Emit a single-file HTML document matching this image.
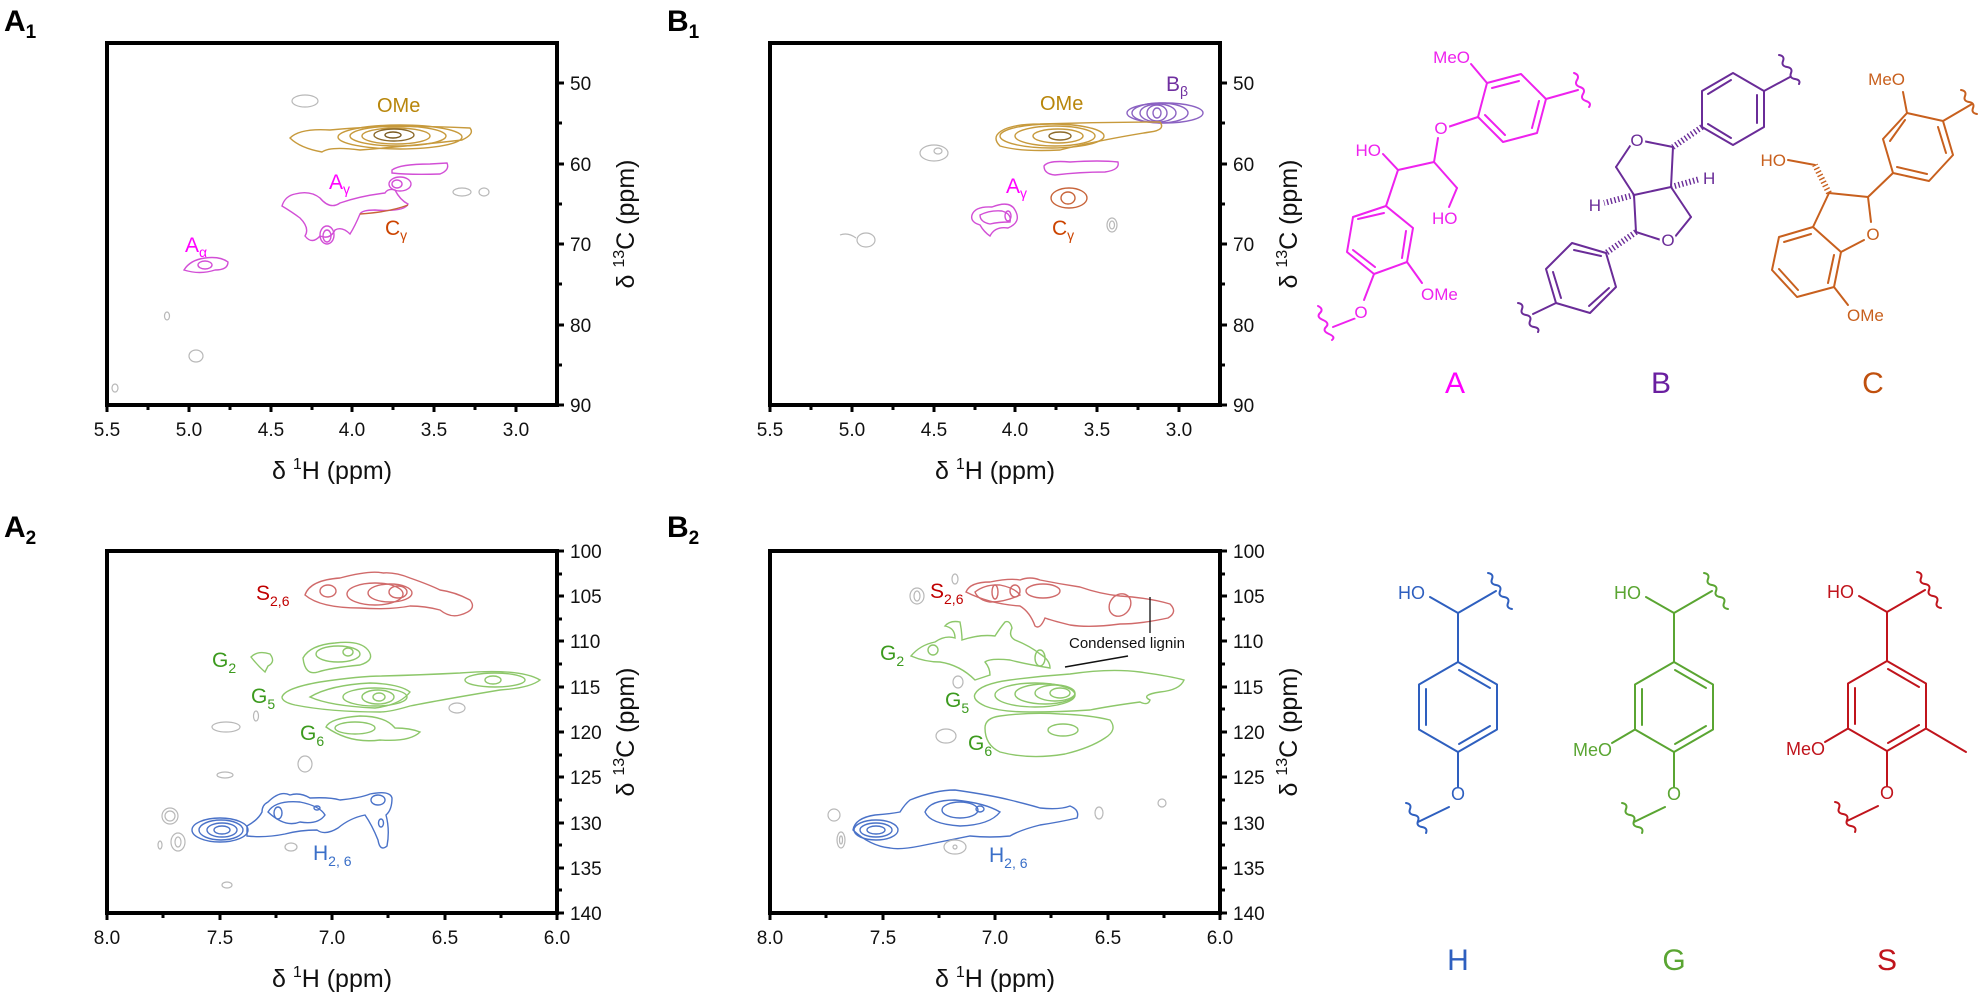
<!DOCTYPE html>
<html><head><meta charset="utf-8"><style>
html,body{margin:0;padding:0;background:#fff;}
svg{display:block;font-family:"Liberation Sans",Arial,sans-serif;}
.fr{fill:none;stroke:#000;stroke-width:4;}
.tk{stroke:#000;stroke-width:3;}
.tl{font-size:19px;fill:#111;}
.at{font-size:25px;fill:#111;}
.c{fill:none;stroke-width:1.4;}
.gr{fill:none;stroke:#b8b8b8;stroke-width:1.2;}
.st{fill:none;stroke-width:2;stroke-linecap:round;stroke-linejoin:round;}
.ol{paint-order:stroke;stroke:#fff;stroke-width:5px;}
</style></head><body>
<svg width="1984" height="998" viewBox="0 0 1984 998" xmlns="http://www.w3.org/2000/svg">
<defs>
<g id="hunit">
<line x1="0" y1="-45" x2="0" y2="-94"/>
<line x1="0" y1="-94" x2="-28" y2="-110"/>
<line x1="0" y1="-94" x2="38" y2="-116"/>
<path d="M30 -134 q6 1 4 6 t4 6 t4 6 t4 6 t4 6 t4 6"/>
<polygon points="0,-45 39,-22.5 39,22.5 0,45 -39,22.5 -39,-22.5"/>
<line x1="1" y1="-37" x2="32" y2="-19"/><line x1="-32" y1="-18" x2="-32" y2="18"/><line x1="32" y1="19" x2="1" y2="37"/>
<line x1="0" y1="45" x2="0" y2="80"/>
<line x1="-9" y1="100" x2="-40" y2="115"/>
<path d="M-52 96 q6 1 4 6 t4 6 t4 6 t4 6 t4 6"/>
</g>
</defs>

<!-- Panel labels -->
<text x="4" y="31" font-size="30" font-weight="bold">A<tspan font-size="19" dy="7">1</tspan></text>
<text x="667" y="31" font-size="30" font-weight="bold">B<tspan font-size="19" dy="7">1</tspan></text>
<text x="4" y="537" font-size="30" font-weight="bold">A<tspan font-size="19" dy="7">2</tspan></text>
<text x="667" y="537" font-size="30" font-weight="bold">B<tspan font-size="19" dy="7">2</tspan></text>

<!-- ===== Top axes ===== -->
<g id="topax">
<rect class="fr" x="107" y="43" width="450" height="362"/>
<g class="tk">
<line x1="107" y1="405" x2="107" y2="412"/><line x1="148" y1="405" x2="148" y2="410"/>
<line x1="189" y1="405" x2="189" y2="412"/><line x1="230" y1="405" x2="230" y2="410"/>
<line x1="271" y1="405" x2="271" y2="412"/><line x1="312" y1="405" x2="312" y2="410"/>
<line x1="352" y1="405" x2="352" y2="412"/><line x1="393" y1="405" x2="393" y2="410"/>
<line x1="434" y1="405" x2="434" y2="412"/><line x1="475" y1="405" x2="475" y2="410"/>
<line x1="516" y1="405" x2="516" y2="412"/>
<line x1="557" y1="83" x2="564" y2="83"/><line x1="557" y1="123" x2="562" y2="123"/>
<line x1="557" y1="164" x2="564" y2="164"/><line x1="557" y1="204" x2="562" y2="204"/>
<line x1="557" y1="244" x2="564" y2="244"/><line x1="557" y1="284" x2="562" y2="284"/>
<line x1="557" y1="325" x2="564" y2="325"/><line x1="557" y1="365" x2="562" y2="365"/>
<line x1="557" y1="405" x2="564" y2="405"/>
</g>
<g class="tl" text-anchor="middle">
<text x="107" y="436">5.5</text><text x="189" y="436">5.0</text><text x="271" y="436">4.5</text>
<text x="352" y="436">4.0</text><text x="434" y="436">3.5</text><text x="516" y="436">3.0</text>
</g>
<g class="tl">
<text x="570" y="90">50</text><text x="570" y="171">60</text><text x="570" y="251">70</text>
<text x="570" y="332">80</text><text x="570" y="412">90</text>
</g>
<text class="at" x="332" y="479" text-anchor="middle">δ <tspan font-size="16" dy="-10">1</tspan><tspan dy="10">H (ppm)</tspan></text>
<text class="at" transform="translate(634,224) rotate(-90)" text-anchor="middle">δ <tspan font-size="16" dy="-10">13</tspan><tspan dy="10">C (ppm)</tspan></text>
</g>
<use href="#topax" x="663"/>

<!-- ===== Bottom axes ===== -->
<g id="botax">
<rect class="fr" x="107" y="551" width="450" height="362"/>
<g class="tk">
<line x1="107" y1="913" x2="107" y2="920"/><line x1="163" y1="913" x2="163" y2="918"/>
<line x1="220" y1="913" x2="220" y2="920"/><line x1="276" y1="913" x2="276" y2="918"/>
<line x1="332" y1="913" x2="332" y2="920"/><line x1="388" y1="913" x2="388" y2="918"/>
<line x1="445" y1="913" x2="445" y2="920"/><line x1="501" y1="913" x2="501" y2="918"/>
<line x1="557" y1="913" x2="557" y2="920"/>
<line x1="557" y1="551" x2="564" y2="551"/><line x1="557" y1="574" x2="562" y2="574"/>
<line x1="557" y1="596" x2="564" y2="596"/><line x1="557" y1="619" x2="562" y2="619"/>
<line x1="557" y1="641" x2="564" y2="641"/><line x1="557" y1="664" x2="562" y2="664"/>
<line x1="557" y1="687" x2="564" y2="687"/><line x1="557" y1="709" x2="562" y2="709"/>
<line x1="557" y1="732" x2="564" y2="732"/><line x1="557" y1="755" x2="562" y2="755"/>
<line x1="557" y1="777" x2="564" y2="777"/><line x1="557" y1="800" x2="562" y2="800"/>
<line x1="557" y1="823" x2="564" y2="823"/><line x1="557" y1="845" x2="562" y2="845"/>
<line x1="557" y1="868" x2="564" y2="868"/><line x1="557" y1="890" x2="562" y2="890"/>
<line x1="557" y1="913" x2="564" y2="913"/>
</g>
<g class="tl" text-anchor="middle">
<text x="107" y="944">8.0</text><text x="220" y="944">7.5</text><text x="332" y="944">7.0</text>
<text x="445" y="944">6.5</text><text x="557" y="944">6.0</text>
</g>
<g class="tl">
<text x="570" y="558">100</text><text x="570" y="603">105</text><text x="570" y="648">110</text>
<text x="570" y="694">115</text><text x="570" y="739">120</text><text x="570" y="784">125</text>
<text x="570" y="830">130</text><text x="570" y="875">135</text><text x="570" y="920">140</text>
</g>
<text class="at" x="332" y="987" text-anchor="middle">δ <tspan font-size="16" dy="-10">1</tspan><tspan dy="10">H (ppm)</tspan></text>
<text class="at" transform="translate(634,732) rotate(-90)" text-anchor="middle">δ <tspan font-size="16" dy="-10">13</tspan><tspan dy="10">C (ppm)</tspan></text>
</g>
<use href="#botax" x="663"/>

<!-- ===== A1 contours ===== -->
<g>
<g class="c" stroke="#c79a3c">
<path d="M290 138 Q300 128 330 130 Q390 124 470 128 Q475 134 462 140 Q410 146 360 150 Q330 146 322 152 Q300 148 290 138Z"/>
<ellipse cx="400" cy="137" rx="62" ry="12"/>
<ellipse cx="398" cy="136" rx="48" ry="10"/>
<ellipse cx="396" cy="136" rx="34" ry="8"/>
<ellipse cx="394" cy="135" rx="20" ry="6" stroke="#8c6a2a"/>
<ellipse cx="393" cy="135" rx="8" ry="3" stroke="#7a5a20"/>
</g>
<text x="377" y="112" font-size="20" fill="#b8860b">OMe</text>
<g class="c" stroke="#d24fd6">
<path d="M392 170 Q400 164 430 164 L447 163 Q450 170 440 174 Q410 175 392 173Z"/>
<path d="M282 206 Q285 196 295 194 Q310 190 320 198 Q330 210 340 203 Q360 196 385 193 Q388 188 395 190 Q400 200 408 204 Q405 212 375 210 Q362 210 360 214 Q355 226 350 234 Q342 226 335 230 Q330 240 320 236 Q312 245 305 236 Q310 228 300 218 Q292 212 282 206Z"/>
<ellipse cx="327" cy="235" rx="7" ry="9"/><ellipse cx="327" cy="236" rx="4" ry="6"/>
<ellipse cx="400" cy="184" rx="11" ry="7"/><ellipse cx="397" cy="184" rx="5" ry="4"/>
<path d="M184 270 Q190 260 205 258 Q220 256 228 262 Q228 270 215 270 Q200 275 184 270Z"/>
<ellipse cx="205" cy="265" rx="7" ry="4"/>
</g>
<path class="c" stroke="#c8643a" d="M360 214 Q390 212 408 205"/>
<text x="329" y="189" font-size="21" fill="#ff00ff">A<tspan font-size="14" dy="5">γ</tspan></text>
<text x="185" y="252" font-size="21" fill="#ff00ff">A<tspan font-size="14" dy="5">α</tspan></text>
<text x="385" y="235" font-size="21" fill="#cc4400">C<tspan font-size="14" dy="5">γ</tspan></text>
<g class="gr">
<ellipse cx="305" cy="101" rx="13" ry="6"/><ellipse cx="462" cy="192" rx="9" ry="4"/><ellipse cx="484" cy="192" rx="5" ry="4"/>
<ellipse cx="167" cy="316" rx="2.5" ry="4"/><ellipse cx="196" cy="356" rx="7" ry="6"/><ellipse cx="115" cy="388" rx="3" ry="4"/>
</g>
</g>

<!-- ===== B1 contours ===== -->
<g>
<g class="c" stroke="#8b62c2">
<ellipse cx="1165" cy="113" rx="38" ry="10"/>
<ellipse cx="1160" cy="113" rx="28" ry="10"/>
<ellipse cx="1158" cy="113" rx="18" ry="9"/>
<ellipse cx="1157" cy="113" rx="10" ry="8"/>
<ellipse cx="1157" cy="113" rx="4" ry="5"/>
</g>
<text x="1166" y="91" font-size="21" fill="#7030a0">B<tspan font-size="14" dy="5">β</tspan></text>
<g class="c" stroke="#c79a3c">
<path d="M997 135 Q1005 124 1040 124 Q1100 122 1160 122 Q1166 130 1150 132 Q1100 140 1060 150 Q1020 152 1000 146 Q994 140 997 135Z"/>
<ellipse cx="1052" cy="136" rx="52" ry="12"/>
<ellipse cx="1055" cy="136" rx="40" ry="10"/>
<ellipse cx="1058" cy="136" rx="25" ry="7"/>
<ellipse cx="1060" cy="136" rx="11" ry="4" stroke="#8c6a2a"/>
</g>
<text x="1040" y="110" font-size="20" fill="#b8860b">OMe</text>
<g class="c" stroke="#d24fd6">
<path d="M1044 166 Q1048 160 1070 162 Q1100 160 1118 162 Q1120 170 1105 172 Q1080 172 1055 175 Q1044 174 1044 166Z"/>
<path d="M972 215 Q975 206 992 207 Q1010 200 1015 210 Q1022 222 1008 228 Q995 226 990 236 Q984 232 980 225 Q970 222 972 215Z"/>
<path d="M980 215 Q990 210 1002 211 Q1012 214 1010 222 Q998 222 990 224 Q980 222 980 215Z"/>
<ellipse cx="1008" cy="216" rx="3" ry="5"/>
</g>
<g class="c" stroke="#c8643a">
<ellipse cx="1069" cy="198" rx="18" ry="10"/><ellipse cx="1068" cy="198" rx="7" ry="6"/>
</g>
<text x="1006" y="193" font-size="21" fill="#ff00ff">A<tspan font-size="14" dy="5">γ</tspan></text>
<text x="1052" y="235" font-size="21" fill="#cc4400">C<tspan font-size="14" dy="5">γ</tspan></text>
<g class="gr">
<ellipse cx="934" cy="153" rx="14" ry="8"/><ellipse cx="938" cy="151" rx="4" ry="3"/>
<ellipse cx="866" cy="240" rx="9" ry="7"/><path d="M840 235 Q848 232 856 238"/>
<ellipse cx="1112" cy="225" rx="5" ry="7"/><ellipse cx="1112" cy="225" rx="2.5" ry="4"/>
</g>
</g>

<!-- ===== A2 contours ===== -->
<g>
<g class="c" stroke="#d06a6a">
<path d="M305 595 Q310 580 340 578 Q370 570 383 573 Q395 572 410 578 Q430 585 440 590 Q455 592 470 600 Q478 610 460 615 Q450 618 440 610 Q425 606 410 606 Q390 610 360 608 Q320 608 305 595Z"/>
<ellipse cx="328" cy="591" rx="8" ry="6"/>
<ellipse cx="375" cy="594" rx="28" ry="11"/>
<ellipse cx="390" cy="593" rx="22" ry="9"/>
<ellipse cx="398" cy="592" rx="9" ry="6"/>
</g>
<text x="256" y="600" font-size="21" fill="#c00000">S<tspan font-size="14" dy="6">2,6</tspan></text>
<g class="c" stroke="#8dc76a">
<path d="M251 657 Q258 650 270 654 Q276 662 268 666 L265 672 Q258 666 251 657Z"/>
<path d="M303 658 Q310 645 335 643 Q360 640 368 650 Q376 660 360 665 Q330 668 318 672 Q305 676 303 658Z"/>
<ellipse cx="338" cy="654" rx="22" ry="8"/>
<ellipse cx="348" cy="652" rx="5" ry="4"/>
<path d="M282 697 Q285 688 320 682 Q360 676 382 676 Q420 675 460 673 Q520 668 540 680 Q530 688 500 690 Q440 700 410 706 Q390 712 380 712 Q330 712 295 705 Q282 702 282 697Z"/>
<path d="M310 697 Q330 685 370 683 Q400 684 410 692 Q400 705 375 708 Q330 706 310 697Z"/>
<ellipse cx="375" cy="697" rx="32" ry="9"/>
<ellipse cx="378" cy="697" rx="16" ry="7"/>
<ellipse cx="379" cy="697" rx="6" ry="4"/>
<ellipse cx="495" cy="680" rx="30" ry="7"/>
<ellipse cx="493" cy="680" rx="8" ry="4"/>
<path d="M326 727 Q330 718 360 716 Q385 716 395 728 Q410 728 420 732 Q410 742 380 740 Q350 744 326 727Z"/>
<ellipse cx="355" cy="728" rx="20" ry="6"/>
</g>
<text x="212" y="667" font-size="21" fill="#3c9a1e">G<tspan font-size="14" dy="6">2</tspan></text>
<text x="251" y="703" font-size="21" fill="#3c9a1e">G<tspan font-size="14" dy="6">5</tspan></text>
<text x="300" y="740" font-size="21" fill="#3c9a1e">G<tspan font-size="14" dy="6">6</tspan></text>
<g class="c" stroke="#4a72c8">
<ellipse cx="220" cy="830" rx="28" ry="12"/>
<ellipse cx="221" cy="830" rx="22" ry="10"/>
<ellipse cx="222" cy="830" rx="15" ry="7"/>
<ellipse cx="222" cy="830" rx="8" ry="4"/>
<path d="M247 826 Q258 820 262 812 Q262 805 268 802 Q280 790 290 795 Q300 792 310 798 Q330 797 340 800 Q360 798 370 794 Q390 790 392 798 Q392 810 386 815 Q390 830 387 846 Q380 852 378 840 Q372 825 365 815 Q350 818 338 828 Q325 836 317 830 Q300 830 285 834 Q265 838 247 836Z"/>
<path d="M268 812 Q275 800 300 802 Q320 806 325 815 Q318 825 300 822 Q285 828 268 812Z"/>
<ellipse cx="278" cy="813" rx="4" ry="6"/><ellipse cx="317" cy="808" rx="3" ry="2"/>
<ellipse cx="378" cy="800" rx="7" ry="5"/><ellipse cx="381" cy="823" rx="2.5" ry="4"/>
</g>
<text x="313" y="860" font-size="21" fill="#3a6fc8">H<tspan font-size="14" dy="6">2, 6</tspan></text>
<g class="gr">
<ellipse cx="170" cy="816" rx="8" ry="8"/><ellipse cx="170" cy="816" rx="5" ry="5"/>
<ellipse cx="178" cy="842" rx="7" ry="9"/><ellipse cx="178" cy="842" rx="3" ry="5"/>
<ellipse cx="225" cy="775" rx="8" ry="3"/><ellipse cx="291" cy="847" rx="6" ry="4"/>
<ellipse cx="227" cy="885" rx="5" ry="3"/><ellipse cx="305" cy="764" rx="7" ry="8"/>
<ellipse cx="226" cy="727" rx="14" ry="5"/><ellipse cx="256" cy="716" rx="2.5" ry="5"/>
<ellipse cx="457" cy="708" rx="8" ry="5"/><ellipse cx="160" cy="845" rx="2" ry="4"/>
</g>
</g>

<!-- ===== B2 contours ===== -->
<g>
<g class="c" stroke="#d06a6a">
<path d="M966 592 Q970 582 990 582 Q1010 578 1020 580 Q1030 576 1040 580 Q1060 584 1080 587 Q1100 594 1120 596 Q1150 598 1170 604 Q1178 612 1168 618 Q1140 624 1120 624 Q1090 628 1070 625 Q1050 620 1045 618 Q1040 630 1035 626 Q1030 612 1020 606 Q990 604 966 592Z"/>
<path d="M975 592 Q985 584 1000 585 Q1015 588 1020 595 Q1005 602 990 602 Q978 600 975 592Z"/>
<ellipse cx="995" cy="592" rx="3" ry="7"/>
<ellipse cx="1015" cy="591" rx="5" ry="6"/>
<ellipse cx="1043" cy="591" rx="17" ry="7"/>
<ellipse cx="1120" cy="605" rx="10" ry="12" transform="rotate(40 1120 605)"/>
</g>
<text x="930" y="598" font-size="21" fill="#c00000">S<tspan font-size="14" dy="6">2,6</tspan></text>
<g class="c" stroke="#8dc76a">
<path d="M911 656 Q920 645 935 642 Q945 635 955 638 Q955 628 945 626 Q950 620 960 622 Q962 632 962 640 Q980 634 995 636 Q1000 628 1005 622 Q1010 620 1012 628 Q1008 636 1015 640 Q1030 646 1040 654 Q1050 660 1050 668 Q1025 664 1010 660 Q990 658 985 662 Q990 668 990 675 L975 680 Q960 665 940 662 Q925 662 911 656Z"/>
<ellipse cx="933" cy="650" rx="5" ry="5"/>
<ellipse cx="1040" cy="658" rx="5" ry="8"/>
<path d="M975 694 Q980 684 1010 680 Q1040 676 1070 674 Q1110 668 1140 672 Q1170 676 1184 680 Q1180 690 1160 692 Q1140 695 1150 700 Q1148 706 1140 702 Q1110 706 1090 710 Q1060 712 1030 712 Q1000 712 985 706 Q972 700 975 694Z"/>
<ellipse cx="1035" cy="695" rx="40" ry="12"/>
<ellipse cx="1045" cy="694" rx="30" ry="10"/>
<ellipse cx="1055" cy="693" rx="20" ry="8"/>
<ellipse cx="1060" cy="693" rx="10" ry="5"/>
<path d="M985 728 Q985 718 1000 716 Q1030 712 1060 714 Q1090 715 1110 720 Q1118 730 1105 738 Q1090 748 1065 754 Q1030 760 1000 752 Q985 745 985 728Z"/>
<ellipse cx="1063" cy="730" rx="15" ry="6"/>
</g>
<text x="880" y="660" font-size="21" fill="#3c9a1e">G<tspan font-size="14" dy="6">2</tspan></text>
<text x="945" y="707" font-size="21" fill="#3c9a1e">G<tspan font-size="14" dy="6">5</tspan></text>
<text x="968" y="750" font-size="21" fill="#3c9a1e">G<tspan font-size="14" dy="6">6</tspan></text>
<text x="1069" y="648" font-size="15" fill="#111">Condensed lignin</text>
<line x1="1150" y1="597" x2="1150" y2="633" stroke="#111" stroke-width="1.3"/>
<line x1="1065" y1="667" x2="1128" y2="656" stroke="#111" stroke-width="1.5"/>
<g class="c" stroke="#4a72c8">
<path d="M853 830 Q855 818 875 815 Q890 814 900 812 Q905 804 910 800 Q935 790 955 790 Q990 795 1010 800 Q1030 805 1040 808 Q1060 810 1070 806 Q1080 810 1077 818 Q1060 822 1040 825 Q1020 830 1010 836 Q990 838 970 836 Q940 842 920 846 Q900 850 890 848 Q870 846 853 830Z"/>
<ellipse cx="876" cy="830" rx="22" ry="10"/><ellipse cx="876" cy="830" rx="16" ry="7"/><ellipse cx="876" cy="830" rx="9" ry="4"/>
<path d="M925 812 Q930 800 955 800 Q985 803 1000 812 Q990 825 960 826 Q930 824 925 812Z"/>
<ellipse cx="960" cy="810" rx="18" ry="8"/>
<ellipse cx="980" cy="809" rx="4" ry="3"/>
</g>
<text x="989" y="862" font-size="21" fill="#3a6fc8">H<tspan font-size="14" dy="6">2, 6</tspan></text>
<g class="gr">
<ellipse cx="917" cy="596" rx="7" ry="8"/><ellipse cx="917" cy="596" rx="3" ry="5"/>
<ellipse cx="946" cy="736" rx="10" ry="7"/><ellipse cx="955" cy="847" rx="11" ry="7"/><ellipse cx="955" cy="847" rx="2" ry="2"/>
<ellipse cx="834" cy="815" rx="6" ry="6"/><ellipse cx="841" cy="840" rx="4" ry="8"/><ellipse cx="841" cy="840" rx="1.5" ry="4"/>
<ellipse cx="1099" cy="813" rx="4" ry="6"/><ellipse cx="1162" cy="803" rx="4" ry="4"/>
<ellipse cx="955" cy="579" rx="3" ry="5"/><ellipse cx="958" cy="682" rx="5" ry="6"/>
</g>
</g>

<!-- ===== Structure A ===== -->
<g class="st" stroke="#ee22ee">
<polygon points="1521,74 1546,99 1537,133 1503,142 1478,117 1487,83"/>
<line x1="1519" y1="81" x2="1492" y2="88"/><line x1="1539" y1="101" x2="1532" y2="128"/><line x1="1505" y1="135" x2="1485" y2="115"/>
<line x1="1487" y1="83" x2="1471" y2="64"/>
<line x1="1546" y1="99" x2="1578" y2="90"/>
<path d="M1574 73 q6 2 3 7 t3 7 t3 7 t3 7 t3 6"/>
<line x1="1478" y1="117" x2="1448" y2="127"/>
<line x1="1438" y1="138" x2="1434" y2="162"/>
<line x1="1434" y1="162" x2="1398" y2="170"/>
<line x1="1398" y1="170" x2="1383" y2="154"/>
<line x1="1434" y1="162" x2="1457" y2="188"/>
<line x1="1457" y1="188" x2="1449" y2="207"/>
<line x1="1398" y1="170" x2="1386" y2="206"/>
<polygon points="1386,206 1413,228 1407,262 1374,274 1347,252 1353,217"/>
<line x1="1384" y1="213" x2="1358" y2="219"/><line x1="1406" y1="231" x2="1402" y2="258"/><line x1="1375" y1="267" x2="1353" y2="250"/>
<line x1="1407" y1="262" x2="1422" y2="283"/>
<line x1="1374" y1="274" x2="1364" y2="300"/>
<line x1="1356" y1="318" x2="1333" y2="327"/>
<path d="M1318 306 q6 3 2 7 t3 7 t3 7 t3 7 t3 6"/>
</g>
<g font-size="17" fill="#ee22ee">
<text x="1470" y="63" text-anchor="end">MeO</text>
<text x="1441" y="134" text-anchor="middle" class="ol">O</text>
<text x="1381" y="156" text-anchor="end">HO</text>
<text x="1432" y="224">HO</text>
<text x="1421" y="300">OMe</text>
<text x="1361" y="318" text-anchor="middle" class="ol">O</text>
</g>
<text x="1455" y="393" font-size="30" fill="#ff00ff" text-anchor="middle">A</text>

<!-- ===== Structure B ===== -->
<g class="st" stroke="#6a2c98">
<polygon points="1733,73 1764,91 1764,127 1733,145 1702,127 1702,91"/>
<line x1="1731" y1="80" x2="1708" y2="94"/><line x1="1757" y1="95" x2="1757" y2="123"/><line x1="1731" y1="138" x2="1708" y2="124"/>
<line x1="1764" y1="91" x2="1790" y2="77"/>
<path d="M1779 55 q6 1 4 6 t4 6 t4 6 t4 6 t4 5"/>
<line x1="1702" y1="127" x2="1673" y2="147" stroke-width="6" stroke-dasharray="1.4 2.4" stroke-linecap="butt"/>
<line x1="1673" y1="147" x2="1643" y2="141"/>
<line x1="1630" y1="146" x2="1616" y2="167"/>
<line x1="1616" y1="167" x2="1634" y2="195"/>
<line x1="1634" y1="195" x2="1671" y2="187"/>
<line x1="1671" y1="187" x2="1673" y2="147"/>
<line x1="1671" y1="187" x2="1691" y2="217"/>
<line x1="1691" y1="217" x2="1674" y2="238"/>
<line x1="1661" y1="240" x2="1636" y2="232"/>
<line x1="1636" y1="232" x2="1634" y2="195"/>
<line x1="1671" y1="187" x2="1700" y2="179" stroke-width="6" stroke-dasharray="1.4 2.4" stroke-linecap="butt"/>
<line x1="1634" y1="195" x2="1604" y2="203" stroke-width="6" stroke-dasharray="1.4 2.4" stroke-linecap="butt"/>
<line x1="1636" y1="232" x2="1606" y2="253" stroke-width="6" stroke-dasharray="1.4 2.4" stroke-linecap="butt"/>
<polygon points="1606,253 1616,287 1590,313 1556,303 1546,269 1572,243"/>
<line x1="1601" y1="256" x2="1574" y2="250"/><line x1="1609" y1="288" x2="1589" y2="306"/><line x1="1561" y1="298" x2="1553" y2="272"/>
<line x1="1556" y1="303" x2="1533" y2="314"/>
<path d="M1518 303 q6 1 4 6 t4 6 t4 6 t4 6 t4 5"/>
</g>
<g font-size="17" fill="#6a2c98">
<text x="1637" y="146" text-anchor="middle" class="ol">O</text>
<text x="1668" y="246" text-anchor="middle" class="ol">O</text>
<text x="1703" y="184">H</text>
<text x="1601" y="211" text-anchor="end">H</text>
</g>
<text x="1661" y="393" font-size="30" fill="#6a1fa0" text-anchor="middle">B</text>

<!-- ===== Structure C ===== -->
<g class="st" stroke="#c8601e">
<polygon points="1907,113 1943,121 1953,155 1929,181 1893,173 1883,139"/>
<line x1="1905" y1="120" x2="1890" y2="141"/><line x1="1938" y1="127" x2="1946" y2="153"/><line x1="1927" y1="174" x2="1897" y2="167"/>
<line x1="1907" y1="113" x2="1903" y2="92"/>
<line x1="1943" y1="121" x2="1972" y2="104"/>
<path d="M1961 90 q6 1 4 6 t4 6 t4 6 t4 6"/>
<line x1="1893" y1="173" x2="1868" y2="197"/>
<line x1="1868" y1="197" x2="1871" y2="222"/>
<line x1="1868" y1="197" x2="1829" y2="193"/>
<line x1="1829" y1="193" x2="1815" y2="165" stroke-width="6" stroke-dasharray="1.4 2.4" stroke-linecap="butt"/>
<line x1="1815" y1="165" x2="1788" y2="160"/>
<line x1="1829" y1="193" x2="1813" y2="227"/>
<line x1="1864" y1="240" x2="1841" y2="252"/>
<polygon points="1813,227 1841,252 1834,287 1797,297 1772,270 1779,237"/>
<line x1="1811" y1="234" x2="1784" y2="242"/><line x1="1779" y1="269" x2="1798" y2="290"/><line x1="1828" y1="283" x2="1834" y2="255"/>
<line x1="1834" y1="287" x2="1848" y2="305"/>
</g>
<g font-size="17" fill="#c8601e">
<text x="1905" y="85" text-anchor="end">MeO</text>
<text x="1873" y="240" text-anchor="middle" class="ol">O</text>
<text x="1786" y="166" text-anchor="end">HO</text>
<text x="1847" y="321">OMe</text>
</g>
<text x="1873" y="393" font-size="30" fill="#c0500e" text-anchor="middle">C</text>

<!-- ===== H / G / S structures ===== -->
<g class="st" stroke="#2e5fbf" transform="translate(1458,707)">
<use href="#hunit"/>
</g>
<g class="st" stroke="#5aa532" transform="translate(1674,707)">
<use href="#hunit"/>
<line x1="-39" y1="22.5" x2="-62" y2="36"/>
</g>
<g class="st" stroke="#c0141c" transform="translate(1887,706)">
<use href="#hunit"/>
<line x1="-39" y1="22.5" x2="-62" y2="36"/>
<line x1="39" y1="22.5" x2="79" y2="46"/>
</g>
<g font-size="18">
<text x="1425" y="599" text-anchor="end" fill="#2e5fbf">HO</text>
<text x="1458" y="800" text-anchor="middle" fill="#2e5fbf">O</text>
<text x="1641" y="599" text-anchor="end" fill="#5aa532">HO</text>
<text x="1674" y="800" text-anchor="middle" fill="#5aa532">O</text>
<text x="1612" y="756" text-anchor="end" fill="#5aa532">MeO</text>
<text x="1854" y="598" text-anchor="end" fill="#c0141c">HO</text>
<text x="1887" y="799" text-anchor="middle" fill="#c0141c">O</text>
<text x="1825" y="755" text-anchor="end" fill="#c0141c">MeO</text>
</g>
<text x="1458" y="970" font-size="30" fill="#2e5fbf" text-anchor="middle">H</text>
<text x="1674" y="970" font-size="30" fill="#5aa532" text-anchor="middle">G</text>
<text x="1887" y="970" font-size="30" fill="#c0141c" text-anchor="middle">S</text>
</svg>
</body></html>
